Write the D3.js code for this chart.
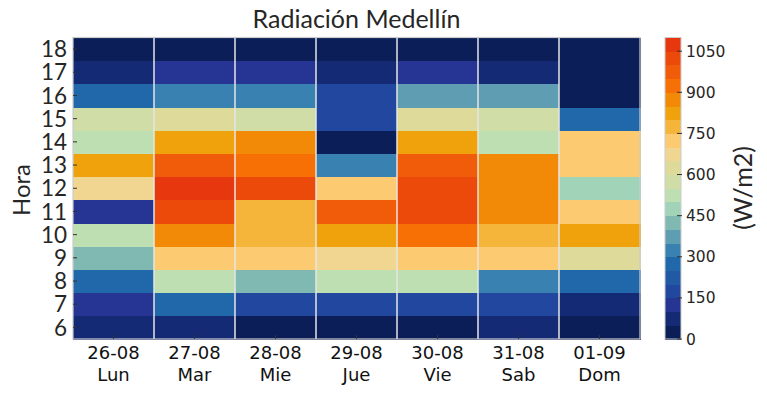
<!DOCTYPE html>
<html>
<head>
<meta charset="utf-8">
<script src="https://cdn.jsdelivr.net/npm/d3@7"></script>
<style>
  body { margin: 0; background: #fff; }
  svg { display: block; }
</style>
</head>
<body>
<svg id="chart" width="767" height="395"></svg>
<script>
// dias y horas
const dates = ["26-08", "27-08", "28-08", "29-08", "30-08", "31-08", "01-09"]
const weekdays = ["Lun", "Mar", "Mie", "Jue", "Vie", "Sab", "Dom"]
const hours = [6, 7, 8, 9, 10, 11, 12, 13, 14, 15, 16, 17, 18]

// radiacion (W/m2), una fila por dia, de las 6 a las 18
const lun = [75, 125, 275, 425, 525, 125, 675, 825, 525, 575, 275, 75, 25]
const mar = [75, 275, 525, 725, 875, 1025, 1075, 975, 825, 625, 325, 125, 25]
const mie = [25, 175, 425, 725, 775, 775, 1025, 925, 875, 575, 325, 125, 25]
const jue = [25, 175, 525, 675, 825, 975, 725, 325, 25, 175, 175, 75, 25]
const vie = [25, 175, 525, 725, 925, 1025, 1025, 975, 825, 625, 375, 125, 25]
const sab = [75, 175, 325, 725, 775, 875, 875, 875, 525, 575, 375, 75, 25]
const dom = [25, 75, 275, 625, 825, 725, 475, 725, 725, 275, 25, 25, 25]
const series = [lun, mar, mie, jue, vie, sab, dom]

const levels = d3.range(50, 1100, 50)
const cbarTicks = [0, 150, 300, 450, 600, 750, 900, 1050]
const palette = [
  "#0b1e58", "#152a75", "#263594", "#22479e", "#2259a5", "#2168ab",
  "#3981b0", "#5e9db2", "#80b8b2", "#a1d3b9", "#bedfb2", "#d0dda7",
  "#dedb9a", "#f0d690", "#fcca70", "#f5b53a", "#f0a20c", "#f28a08",
  "#f67006", "#f05c09", "#ec4a0b", "#e6370f"
]

const svg = d3.select("#chart")
const plotL = 73, plotR = 640, plotT = 37.5, plotB = 339

const x = d3.scaleBand().domain(d3.range(dates.length)).range([plotL, plotR])
const y = d3.scaleBand().domain(hours).range([plotB, plotT])
const color = d3.scaleThreshold().domain(levels).range(palette)

let cells = []
series.forEach((vals, i) => {
  vals.forEach((v, j) => cells.push({day: i, hour: hours[j], value: v}))
})

svg.append("g")
  .attr("shape-rendering", "crispEdges")
  .selectAll("rect")
  .data(cells)
  .join("rect")
  .attr("x", d => x(d.day))
  .attr("y", d => y(d.hour))
  .attr("width", x.bandwidth() + 0.5)
  .attr("height", y.bandwidth() + 0.5)
  .attr("fill", d => color(d.value))

// lineas blancas entre dias
svg.append("g")
  .selectAll("line")
  .data(d3.range(1, dates.length))
  .join("line")
  .attr("x1", d => x(d)).attr("x2", d => x(d))
  .attr("y1", plotT).attr("y2", plotB)
  .attr("stroke", "#e6e6e6")
  .attr("stroke-width", 1.5)

svg.append("rect")
  .attr("x", plotL).attr("y", plotT)
  .attr("width", plotR - plotL).attr("height", plotB - plotT)
  .attr("fill", "none")
  .attr("stroke", "#cccccc")
  .attr("stroke-width", 1.2)

// ticks hacia adentro
svg.append("g")
  .selectAll("line")
  .data(hours)
  .join("line")
  .attr("x1", plotL).attr("x2", plotL + 4)
  .attr("y1", d => y(d) + y.bandwidth() / 2)
  .attr("y2", d => y(d) + y.bandwidth() / 2)
  .attr("stroke", "#333").attr("stroke-width", 1)

svg.append("g")
  .selectAll("line")
  .data(d3.range(dates.length))
  .join("line")
  .attr("x1", d => x(d) + x.bandwidth() / 2)
  .attr("x2", d => x(d) + x.bandwidth() / 2)
  .attr("y1", plotB).attr("y2", plotB - 4)
  .attr("stroke", "#333").attr("stroke-width", 1)

svg.append("g")
  .selectAll("text")
  .data(hours)
  .join("text")
  .attr("x", 67)
  .attr("y", d => y(d) + y.bandwidth() / 2)
  .attr("dy", "0.36em")
  .attr("text-anchor", "end")
  .attr("font-family", "Lato, sans-serif")
  .attr("font-size", 22.5)
  .attr("fill", "#262626")
  .text(d => d)

let xlab = svg.append("g")
  .selectAll("text")
  .data(d3.range(dates.length))
  .join("text")
  .attr("text-anchor", "middle")
  .attr("font-family", "DejaVu Sans, sans-serif")
  .attr("font-size", 18)
  .attr("fill", "#111")
xlab.append("tspan")
  .attr("x", d => x(d) + x.bandwidth() / 2)
  .attr("y", 359)
  .text(d => dates[d])
xlab.append("tspan")
  .attr("x", d => x(d) + x.bandwidth() / 2)
  .attr("y", 381)
  .text(d => weekdays[d])

svg.append("text")
  .attr("transform", "translate(30,190) rotate(-90)")
  .attr("text-anchor", "middle")
  .attr("font-family", "Lato, sans-serif")
  .attr("font-size", 24)
  .attr("fill", "#262626")
  .text("Hora")

svg.append("text")
  .attr("x", (plotL + plotR) / 2)
  .attr("y", 28)
  .attr("text-anchor", "middle")
  .attr("font-family", "Lato, sans-serif")
  .attr("font-size", 25)
  .attr("fill", "#262626")
  .text("Radiación Medellín")

// barra de color
const cb = d3.scaleLinear().domain([0, 1100]).range([plotB, plotT])
const cbX = 665, cbW = 16

svg.append("g")
  .attr("shape-rendering", "crispEdges")
  .selectAll("rect")
  .data(palette)
  .join("rect")
  .attr("x", cbX)
  .attr("y", (d, i) => cb((i + 1) * 50))
  .attr("width", cbW)
  .attr("height", (d, i) => cb(i * 50) - cb((i + 1) * 50) + 0.5)
  .attr("fill", d => d)

svg.append("rect")
  .attr("x", cbX).attr("y", plotT)
  .attr("width", cbW).attr("height", plotB - plotT)
  .attr("fill", "none")
  .attr("stroke", "#cccccc")
  .attr("stroke-width", 1)

svg.append("g")
  .selectAll("line")
  .data(cbarTicks)
  .join("line")
  .attr("x1", cbX + cbW - 4).attr("x2", cbX + cbW + 1)
  .attr("y1", d => cb(d)).attr("y2", d => cb(d))
  .attr("stroke", "#333").attr("stroke-width", 1)

svg.append("g")
  .selectAll("text")
  .data(cbarTicks)
  .join("text")
  .attr("x", 686)
  .attr("y", d => cb(d))
  .attr("dy", "0.36em")
  .attr("font-family", "DejaVu Sans, sans-serif")
  .attr("font-size", 15.5)
  .attr("fill", "#262626")
  .text(d => d)

svg.append("text")
  .attr("transform", "translate(752,188) rotate(-90)")
  .attr("text-anchor", "middle")
  .attr("font-family", "Lato, sans-serif")
  .attr("font-size", 25)
  .attr("fill", "#262626")
  .text("(W/m2)")
</script>
</body>
</html>
